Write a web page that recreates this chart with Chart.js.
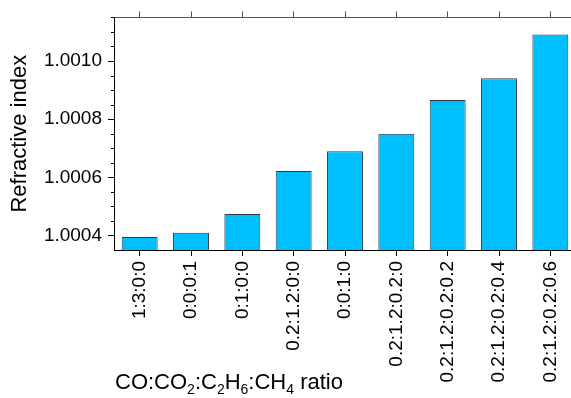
<!DOCTYPE html>
<html>
<head>
<meta charset="utf-8">
<script src="https://cdn.jsdelivr.net/npm/chart.js@4/dist/chart.umd.min.js"></script>
<style>
  html, body { margin: 0; padding: 0; background: #fff; overflow: hidden; }
  #wrap { width: 580px; height: 398px; }
</style>
</head>
<body>
<div id="wrap"><canvas id="chart" width="580" height="398"></canvas></div>
<script>
// ratio categories (CO:CO2:C2H6:CH4)
const ratios = ['1:3:0:0', '0:0:0:1', '0:1:0:0', '0.2:1.2:0:0', '0:0:1:0',
  '0.2:1.2:0.2:0', '0.2:1.2:0.2:0.2', '0.2:1.2:0.2:0.4', '0.2:1.2:0.2:0.6'];
const refIndex = [1.000395, 1.000409, 1.000474, 1.000622, 1.000690,
  1.000750, 1.000866, 1.000941, 1.001091];
const yTicks = [1.0004, 1.0006, 1.0008, 1.0010];

const FONT = 'Liberation Sans, Arial, sans-serif';

// minor ticks on left axis + x title with subscripts
const extras = {
  id: 'extras',
  afterDraw(chart) {
    const c = chart.ctx;
    const y = chart.scales.y;
    const left = chart.chartArea.left;
    c.save();
    c.strokeStyle = '#000';
    c.lineWidth = 1;
    for (let v = 1.00035; v <= 1.00115 + 1e-9; v += 0.00005) {
      const p = Math.round(y.getPixelForValue(v)) + 0.5;
      if (p < chart.chartArea.top - 1 || p > chart.chartArea.bottom) continue;
      c.beginPath();
      c.moveTo(left - 3, p);
      c.lineTo(left, p);
      c.stroke();
    }
    // x axis title
    const parts = [['CO:CO', 0], ['2', 1], [':C', 0], ['2', 1], ['H', 0], ['6', 1],
      [':CH', 0], ['4', 1], [' ratio', 0]];
    let x = 115;
    const base = 389;
    c.fillStyle = '#000';
    c.textBaseline = 'alphabetic';
    c.textAlign = 'left';
    parts.forEach(([t, sub]) => {
      c.font = (sub ? '14px ' : '22px ') + FONT;
      c.fillText(t, x, sub ? base + 5 : base);
      x += c.measureText(t).width;
    });
    c.restore();
  }
};

const ctx = document.getElementById('chart').getContext('2d');
new Chart(ctx, {
  type: 'bar',
  data: {
    labels: ratios,
    datasets: [{
      data: refIndex,
      backgroundColor: '#00BFFF',
      borderColor: '#2a3a40',
      borderWidth: 1,
      barPercentage: 0.7,
      categoryPercentage: 1
    }]
  },
  options: {
    responsive: false,
    animation: false,
    devicePixelRatio: 1,
    layout: { padding: { left: 0, right: 4, top: 0, bottom: 0 } },
    plugins: { legend: { display: false }, tooltip: { enabled: false } },
    scales: {
      x: {
        position: 'bottom',
        grid: { drawOnChartArea: false, offset: false, tickLength: 6, color: '#000' },
        border: { color: '#000', width: 1 },
        ticks: {
          color: '#000',
          font: { family: FONT, size: 19 },
          minRotation: 90, maxRotation: 90,
          padding: 5,
          autoSkip: false
        },
        afterFit: s => { s.height = 148; }
      },
      x2: {
        type: 'category',
        position: 'top',
        labels: ratios,
        grid: { drawOnChartArea: false, offset: false, tickLength: 6, color: '#555' },
        border: { color: '#555', width: 1 },
        ticks: { display: false },
        afterFit: s => { s.height = 14; }
      },
      y: {
        min: 1.00035,
        max: 1.00115,
        grid: { drawOnChartArea: false, tickLength: 6, color: '#000' },
        border: { color: '#000', width: 1 },
        afterBuildTicks: s => { s.ticks = yTicks.map(v => ({ value: v })); },
        ticks: {
          color: '#000',
          font: { family: FONT, size: 19 },
          padding: 6,
          callback: v => Number(v).toFixed(4)
        },
        title: {
          display: true,
          text: 'Refractive index',
          color: '#000',
          font: { family: FONT, size: 22 },
          padding: { top: 7, bottom: 0 }
        },
        afterFit: s => { s.width = 114; }
      }
    }
  },
  plugins: [extras]
});
</script>
</body>
</html>
